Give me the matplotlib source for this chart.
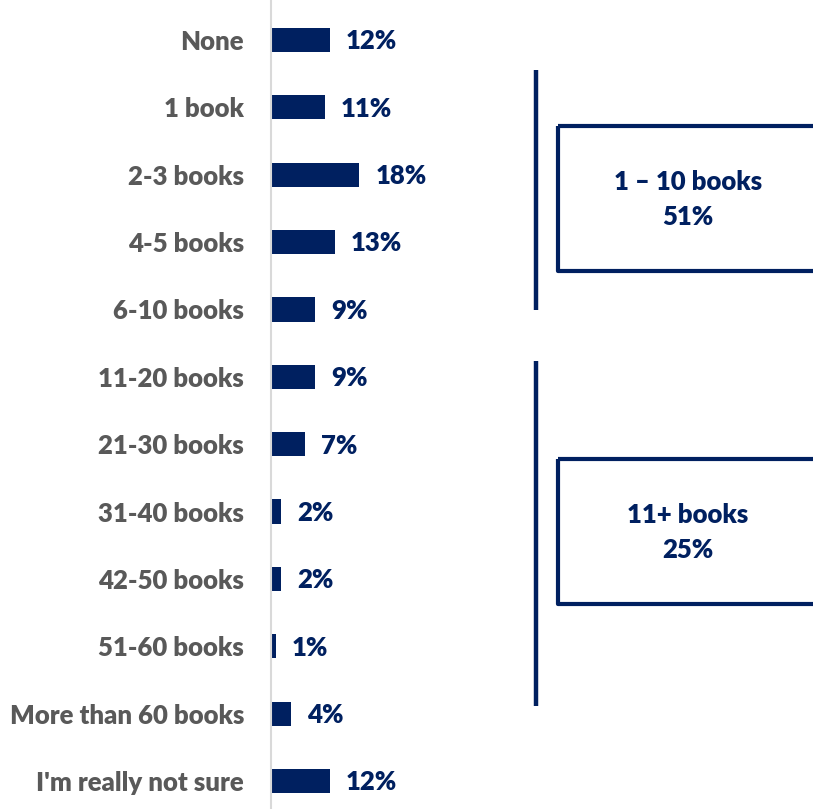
import matplotlib.pyplot as plt
from matplotlib.patches import Rectangle

categories = ['None', '1 book', '2-3 books', '4-5 books', '6-10 books', '11-20 books',
              '21-30 books', '31-40 books', '42-50 books', '51-60 books',
              'More than 60 books', "I'm really not sure"]
values = [12, 11, 18, 13, 9, 9, 7, 2, 2, 1, 4, 12]
group_names = ['1 – 10 books', '11+ books']
group_totals = [51, 25]

navy = '#002060'
grey = '#595959'
plt.rcParams['font.family'] = ['Lato', 'DejaVu Sans']

fig = plt.figure(figsize=(8.13, 8.09), dpi=100)
ax = fig.add_axes([271 / 813, 0, 542 / 813, 1])

y = list(range(len(categories)))
ax.barh(y, values, height=0.36, color=navy, left=0)
for yi, v in zip(y, values):
    ax.text(v + 3.3, yi + 0.02, f'{v}%', va='center', ha='left', color=navy,
            fontsize=18.5, fontweight='heavy')

ax.set_xlim(0, 542 / 4.9)
ax.set_ylim(11.415, -0.593)
ax.set_yticks(y)
ax.set_yticklabels(categories, color=grey, fontsize=18.5, fontweight='heavy')
ax.tick_params(axis='y', length=0, pad=19.5)
ax.set_xticks([])
for s in ['top', 'right', 'bottom']:
    ax.spines[s].set_visible(False)
ax.spines['left'].set_color('#d9d9d9')
ax.spines['left'].set_linewidth(1.5)

# group brackets: vertical rule plus a box with the group total (rows)
rule_spans = [(0.445, 4.006), (4.763, 9.88)]
box_spans = [(1.276, 3.427), (6.217, 8.368)]
tr = ax.get_yaxis_transform()
line_x = (536 - 271) / 542
box_x = (558 - 271) / 542
for name, total, (r0, r1), (b0, b1) in zip(group_names, group_totals, rule_spans, box_spans):
    ax.plot([line_x, line_x], [r0, r1], transform=tr, color=navy,
            lw=3.2, solid_capstyle='butt', clip_on=False)
    ax.add_patch(Rectangle((box_x, b0), 0.5, b1 - b0, transform=tr,
                           fill=False, edgecolor=navy, lw=3, clip_on=True,
                           joinstyle='round'))
    ax.text((688 - 271) / 542, (b0 + b1) / 2 + 0.02, f'{name}\n{total}%', transform=tr,
            ha='center', va='center', color=navy, fontsize=18.5, fontweight='heavy',
            linespacing=1.55)

fig.savefig('out.png', dpi=100)
